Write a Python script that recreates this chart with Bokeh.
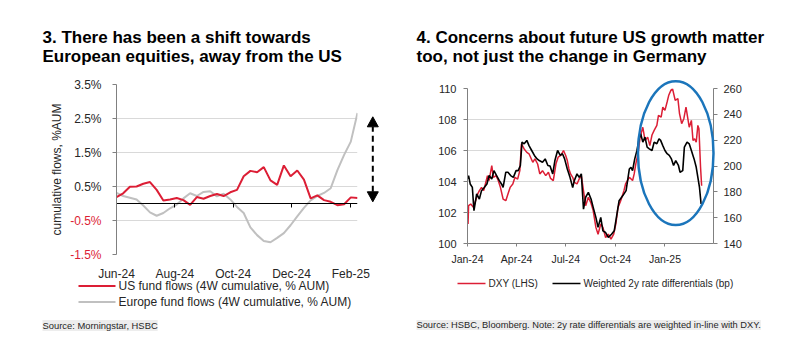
import pandas as pd
from bokeh.plotting import figure
from bokeh.layouts import row
from bokeh.models import (Range1d, LinearAxis, DatetimeAxis, FixedTicker, DatetimeTickFormatter,
                          PrintfTickFormatter, CustomJSTickFormatter)
from bokeh.core.properties import value
from bokeh.embed import file_html
from bokeh.resources import INLINE

# ---------------- Chart 3 data ----------------
flow_dates = pd.date_range("2024-06-01", periods=37, freq="7D")
us_flows = [0.19, 0.30, 0.49, 0.50, 0.58, 0.63, 0.40, 0.09, 0.12, 0.16, 0.10, -0.04, 0.19,
            0.14, 0.22, 0.28, 0.22, 0.33, 0.40, 0.80, 0.96, 0.92, 1.07, 0.68, 0.55, 1.12,
            0.80, 0.97, 0.70, 0.15, 0.24, 0.10, 0.05, -0.05, -0.02, 0.18, 0.16]
europe_flows = [0.31, 0.22, 0.17, 0.12, -0.06, -0.26, -0.36, -0.28, -0.14, -0.03, 0.15, 0.30,
                0.22, 0.34, 0.36, 0.21, 0.29, 0.12, -0.10, -0.28, -0.70, -0.93, -1.10, -1.14,
                -1.01, -0.87, -0.64, -0.38, -0.13, 0.09, 0.22, 0.31, 0.45, 0.98, 1.43, 1.82, 2.66]
flow_x_ticks = ["2024-06-01", "2024-08-01", "2024-10-01", "2024-12-01", "2025-02-01"]
flow_x_limits = ["2024-06-01", "2025-02-08"]
flow_y_ticks = [-1.5, -0.5, 0.5, 1.5, 2.5, 3.5]
flow_neg_ticks = [-1.5, -0.5]
flow_neg_labels = ["-1.5%", "-0.5%"]
flow_y_limits = [-1.5, 3.5]
flow_labels = ["US fund flows (4W cumulative, % AUM)", "Europe fund flows (4W cumulative, % AUM)"]
arrow_date = "2025-02-24"
arrow_tips = [0.05, 2.55]       # bottom and top arrow tips
title3 = ["3. There has been a shift towards", "European equities, away from the US"]
source3 = "Source: Morningstar, HSBC"

# ---------------- Chart 4 data ----------------
dxy_dates = ["2024-01-02", "2024-01-03", "2024-01-07", "2024-01-12", "2024-01-16", "2024-01-20",
             "2024-01-23", "2024-01-27", "2024-01-31", "2024-02-04", "2024-02-07", "2024-02-10",
             "2024-02-15", "2024-02-18", "2024-02-23", "2024-02-27", "2024-03-02", "2024-03-07",
             "2024-03-12", "2024-03-16", "2024-03-20", "2024-03-25", "2024-03-29", "2024-04-03",
             "2024-04-07", "2024-04-10", "2024-04-15", "2024-04-20", "2024-04-24", "2024-05-01",
             "2024-05-05", "2024-05-10", "2024-05-14", "2024-05-19", "2024-05-25", "2024-05-30",
             "2024-06-03", "2024-06-08", "2024-06-13", "2024-06-17", "2024-06-22", "2024-06-27",
             "2024-07-01", "2024-07-04", "2024-07-07", "2024-07-10", "2024-07-14", "2024-07-17",
             "2024-07-22", "2024-07-26", "2024-07-30", "2024-08-03", "2024-08-07", "2024-08-12",
             "2024-08-17", "2024-08-21", "2024-08-26", "2024-08-30", "2024-09-04", "2024-09-08",
             "2024-09-13", "2024-09-18", "2024-09-23", "2024-09-28", "2024-10-02", "2024-10-06",
             "2024-10-11", "2024-10-17", "2024-10-20", "2024-10-27", "2024-11-02", "2024-11-05",
             "2024-11-08", "2024-11-12", "2024-11-16", "2024-11-21", "2024-11-25", "2024-11-30",
             "2024-12-04", "2024-12-08", "2024-12-12", "2024-12-17", "2024-12-20", "2024-12-25",
             "2024-12-28", "2025-01-01", "2025-01-05", "2025-01-08", "2025-01-12", "2025-01-15",
             "2025-01-20", "2025-01-25", "2025-01-28", "2025-02-01", "2025-02-05", "2025-02-09",
             "2025-02-12", "2025-02-15", "2025-02-19", "2025-02-22", "2025-02-25", "2025-02-28",
             "2025-03-03", "2025-03-05", "2025-03-08", "2025-03-10"]
dxy = [101.26, 102.44, 102.55, 102.33, 102.76, 103.20, 103.41, 103.62, 103.41, 103.95, 104.38,
       104.06, 105.03, 104.27, 104.38, 104.06, 103.62, 102.87, 102.76, 103.20, 103.62, 103.84,
       104.27, 104.16, 104.70, 106.43, 106.10, 105.88, 105.79, 105.24, 105.46, 105.13, 104.49,
       104.70, 104.38, 104.60, 104.20, 104.06, 105.14, 105.57, 105.68, 106.00, 105.68, 105.35,
       104.81, 104.49, 104.27, 103.95, 103.84, 104.16, 104.38, 103.41, 102.44, 102.98, 102.60,
       102.12, 101.04, 100.60, 101.26, 101.04, 100.39, 100.60, 100.28, 100.60, 101.26, 102.33,
       102.76, 103.41, 103.84, 104.27, 104.06, 104.49, 105.14, 105.79, 106.86, 107.50, 106.65,
       106.86, 106.32, 107.00, 107.30, 107.62, 108.27, 108.16, 108.80, 108.59, 109.13, 109.56,
       109.88, 109.99, 109.24, 109.35, 108.38, 107.73, 108.05, 108.80, 108.16, 107.50, 107.94,
       106.65, 106.75, 106.54, 107.62, 107.41, 104.92, 103.73]
diff_dates = ["2024-01-02", "2024-01-03", "2024-01-06", "2024-01-10", "2024-01-13", "2024-01-18",
              "2024-01-23", "2024-01-27", "2024-02-01", "2024-02-06", "2024-02-10", "2024-02-15",
              "2024-02-19", "2024-02-24", "2024-02-29", "2024-03-04", "2024-03-07", "2024-03-12",
              "2024-03-16", "2024-03-21", "2024-03-26", "2024-03-31", "2024-04-04", "2024-04-08",
              "2024-04-11", "2024-04-15", "2024-04-20", "2024-04-24", "2024-04-29", "2024-05-04",
              "2024-05-09", "2024-05-13", "2024-05-19", "2024-05-24", "2024-05-29", "2024-06-02",
              "2024-06-07", "2024-06-11", "2024-06-16", "2024-06-21", "2024-06-25", "2024-06-29",
              "2024-07-04", "2024-07-09", "2024-07-14", "2024-07-17", "2024-07-22", "2024-07-26",
              "2024-07-30", "2024-08-03", "2024-08-07", "2024-08-12", "2024-08-17", "2024-08-21",
              "2024-08-26", "2024-08-30", "2024-09-04", "2024-09-08", "2024-09-13", "2024-09-18",
              "2024-09-24", "2024-09-29", "2024-10-04", "2024-10-08", "2024-10-15", "2024-10-21",
              "2024-10-27", "2024-10-30", "2024-11-02", "2024-11-06", "2024-11-10", "2024-11-14",
              "2024-11-17", "2024-11-21", "2024-11-25", "2024-11-29", "2024-12-03", "2024-12-08",
              "2024-12-12", "2024-12-17", "2024-12-21", "2024-12-24", "2024-12-28", "2025-01-01",
              "2025-01-05", "2025-01-09", "2025-01-13", "2025-01-17", "2025-01-21", "2025-01-26",
              "2025-01-29", "2025-02-03", "2025-02-06", "2025-02-11", "2025-02-15", "2025-02-19",
              "2025-02-24", "2025-02-28", "2025-03-04", "2025-03-06", "2025-03-09"]
rate_diff = [190.0, 192.6, 186.1, 183.4, 165.4, 178.4, 174.4, 180.9, 183.4, 186.1, 192.6, 189.9,
             196.4, 192.6, 188.7, 186.1, 183.4, 195.2, 195.2, 192.6, 191.2, 196.4, 196.4, 200.4,
             218.5, 217.2, 219.8, 215.8, 212.0, 208.2, 205.5, 204.2, 202.9, 205.5, 200.4, 200.0,
             193.9, 204.2, 212.0, 208.2, 209.5, 205.5, 197.7, 191.2, 183.4, 188.7, 193.9, 191.2,
             193.9, 166.6, 175.8, 179.6, 174.4, 168.0, 160.2, 152.5, 160.2, 149.8, 148.5, 144.7,
             147.2, 149.8, 162.8, 173.1, 177.1, 180.9, 197.7, 199.0, 196.5, 205.5, 211.9, 221.1,
             225.0, 218.5, 222.3, 214.6, 213.3, 212.0, 218.5, 217.2, 221.1, 219.8, 215.8, 212.0,
             209.5, 208.2, 205.5, 200.4, 204.2, 200.4, 195.2, 196.4, 214.6, 218.5, 217.2, 212.0,
             205.5, 199.0, 188.7, 183.4, 170.6]
fx_x_ticks = ["2024-01-01", "2024-04-01", "2024-07-01", "2024-10-01", "2025-01-01"]
fx_x_limits = ["2024-01-01", "2025-04-01"]
lhs_ticks = [100, 102, 104, 106, 108, 110]
rhs_ticks = [140, 160, 180, 200, 220, 240, 260]
lhs_limits = [100, 110]
rhs_limits = [140, 260]
fx_labels = ["DXY (LHS)", "Weighted 2y rate differentials (bp)"]
ellipse_center = ("2025-01-21", 105.83)
ellipse_size_days = 140
ellipse_height = 9.28
title4 = ["4. Concerns about future US growth matter", "too, not just the change in Germany"]
source4 = "Source: HSBC, Bloomberg. Note: 2y rate differentials are weighted in-line with DXY."

# ---------------- styling ----------------
FONT = "Liberation Sans"
RED = "#DC1E35"
GREY_LINE = "#C0C0C0"
AXIS = "#808080"
GRID = "#D9D9D9"
TXT = "#262626"
BLUE = "#1B75BB"
W, H = 400, 356
B1 = dict(left=116, right=43, top=84, bottom=102)   # chart 3 borders
B2 = dict(left=67, right=87, top=88, bottom=113)    # chart 4 borders
HEAD_LEN, HEAD_HALF = 10, 5.5                       # arrow head size in pixels


def ms(d):
    return pd.Timestamp(d).timestamp() * 1000.0


class Frame:
    """Maps canvas pixel positions (outside the frame) to data coordinates."""
    def __init__(self, b, xlim, ylim):
        self.b, self.xlim, self.ylim = b, [ms(v) for v in xlim], ylim
        self.w = W - b["left"] - b["right"]
        self.h = H - b["top"] - b["bottom"]

    def x(self, cx):
        x0, x1 = self.xlim
        return x0 + (cx - self.b["left"]) / self.w * (x1 - x0)

    def y(self, cy):
        y0, y1 = self.ylim
        return y1 - (cy - self.b["top"]) / self.h * (y1 - y0)

    def dx(self, n):
        return n * (self.xlim[1] - self.xlim[0]) / self.w

    def dy(self, n):
        return n * (self.ylim[1] - self.ylim[0]) / self.h


def style_axis(ax, size):
    ax.major_label_text_font = FONT
    ax.major_label_text_font_size = size
    ax.major_label_text_color = TXT
    ax.minor_tick_line_color = None
    ax.axis_line_color = AXIS
    ax.major_tick_line_color = AXIS
    ax.major_tick_in = 0


def put_text(p, fr, cx, cy, text, size, style="normal", color=TXT, baseline="alphabetic", bg=None):
    kw = dict(x=[fr.x(cx)], y=[fr.y(cy)], text=[text], text_align="left", text_baseline=baseline,
              text_color=color, text_font=value(FONT), text_font_size=size, text_font_style=style)
    if bg is not None:
        kw["background_fill_color"] = bg
    r = p.text(**kw)
    r.level = "overlay"
    return r


def put_swatch(p, fr, cx0, cx1, cy, color, width):
    r = p.segment(x0=[fr.x(cx0)], y0=[fr.y(cy)], x1=[fr.x(cx1)], y1=[fr.y(cy)],
                  line_color=color, line_width=width)
    r.level = "overlay"


date_fmt = DatetimeTickFormatter(days="%b-%y", months="%b-%y", years="%b-%y")


def base_figure(b, xlim, ylim):
    p = figure(width=W, height=H, x_axis_type="datetime",
               x_range=Range1d(ms(xlim[0]), ms(xlim[1])), y_range=Range1d(*ylim),
               output_backend="svg", toolbar_location=None, frame_align=False,
               min_border_left=b["left"], min_border_right=b["right"],
               min_border_top=b["top"], min_border_bottom=b["bottom"])
    p.outline_line_color = None
    p.background_fill_color = "white"
    p.border_fill_color = "white"
    p.xgrid.visible = False
    p.ygrid.grid_line_color = GRID
    return p


# ================= Chart 3 =================
p1 = base_figure(B1, flow_x_limits, flow_y_limits)
f1 = Frame(B1, flow_x_limits, flow_y_limits)
p1.ygrid.ticker = FixedTicker(ticks=flow_y_ticks)

xa = p1.xaxis[0]
xa.ticker = FixedTicker(ticks=[ms(d) for d in flow_x_ticks])
xa.formatter = date_fmt
style_axis(xa, "12px")
xa.axis_line_color = None
xa.major_tick_line_color = None
xa.major_tick_out = 0
xa.major_label_standoff = 12

ya = p1.yaxis[0]
ya.ticker = FixedTicker(ticks=flow_y_ticks)
ya.formatter = PrintfTickFormatter(format="%.1f%%")
ya.major_label_overrides = {t: "" for t in flow_neg_ticks}
style_axis(ya, "12px")
ya.major_tick_out = 4
ya.major_label_standoff = 11
ya.axis_label = "cumulative flows, %AUM"
ya.axis_label_text_font = FONT
ya.axis_label_text_font_size = "12px"
ya.axis_label_text_font_style = "normal"
ya.axis_label_text_color = TXT
ya.axis_label_standoff = 7

zero_axis = DatetimeAxis(fixed_location=0, ticker=FixedTicker(ticks=[ms(d) for d in flow_x_ticks]),
                         formatter=CustomJSTickFormatter(code="return ''"))
zero_axis.axis_line_color = "black"
zero_axis.major_tick_line_color = "black"
zero_axis.major_tick_in = 0
zero_axis.major_tick_out = 4
zero_axis.minor_tick_line_color = None
p1.add_layout(zero_axis, "below")

p1.line(flow_dates, europe_flows, line_color=GREY_LINE, line_width=2)
p1.line(flow_dates, us_flows, line_color=RED, line_width=2)

neg = p1.text(x=[pd.Timestamp(flow_x_limits[0])] * len(flow_neg_ticks), y=flow_neg_ticks,
              text=flow_neg_labels, x_offset=-15, text_align="right", text_baseline="middle",
              text_color=RED, text_font=value(FONT), text_font_size="12px")
neg.level = "overlay"

# dashed double-headed arrow (outside the frame, on the right)
ax_ms = ms(arrow_date)
hl, hw = f1.dy(HEAD_LEN), f1.dx(HEAD_HALF)
lo, hi = arrow_tips
shaft = p1.segment(x0=[ax_ms], y0=[lo + hl], x1=[ax_ms], y1=[hi - hl],
                   line_color="black", line_width=2, line_dash="6 4")
shaft.level = "overlay"
for tip, base in [(lo, lo + hl), (hi, hi - hl)]:
    hd = p1.patch(x=[ax_ms, ax_ms - hw, ax_ms + hw], y=[tip, base, base],
                  fill_color="black", line_color="black", line_width=1)
    hd.level = "overlay"

put_text(p1, f1, 42, 37, title3[0], "17px", "bold", "black")
put_text(p1, f1, 42, 56, title3[1], "17px", "bold", "black")
put_swatch(p1, f1, 78, 115, 285.5, RED, 2)
put_text(p1, f1, 118, 285.5, flow_labels[0], "12px", baseline="middle")
put_swatch(p1, f1, 78, 115, 301.5, GREY_LINE, 2)
put_text(p1, f1, 118, 301.5, flow_labels[1], "12px", baseline="middle")
put_text(p1, f1, 42, 325, source3, "9.4px", bg="#EDEDED")

# ================= Chart 4 =================
p2 = base_figure(B2, fx_x_limits, lhs_limits)
f2 = Frame(B2, fx_x_limits, lhs_limits)
p2.extra_y_ranges = {"rhs": Range1d(*rhs_limits)}
p2.ygrid.ticker = FixedTicker(ticks=lhs_ticks[1:])

xb = p2.xaxis[0]
xb.ticker = FixedTicker(ticks=[ms(d) for d in fx_x_ticks])
xb.formatter = date_fmt
style_axis(xb, "10.5px")
xb.major_tick_out = 3
xb.major_label_standoff = 6

yb = p2.yaxis[0]
yb.ticker = FixedTicker(ticks=lhs_ticks)
style_axis(yb, "11px")
yb.major_tick_out = 4
yb.major_label_standoff = 7

rhs_axis = LinearAxis(y_range_name="rhs", ticker=FixedTicker(ticks=rhs_ticks))
style_axis(rhs_axis, "11px")
rhs_axis.major_tick_out = 4
rhs_axis.major_label_standoff = 6
p2.add_layout(rhs_axis, "right")

p2.line(pd.to_datetime(dxy_dates), dxy, line_color=RED, line_width=1.5)
p2.line(pd.to_datetime(diff_dates), rate_diff, line_color="black", line_width=1.6, y_range_name="rhs")

ell = p2.ellipse(x=[pd.Timestamp(ellipse_center[0])], y=[ellipse_center[1]],
                 width=[ellipse_size_days * 86400000.0], height=[ellipse_height],
                 fill_alpha=0, line_color=BLUE, line_width=2.5)
ell.level = "overlay"

put_text(p2, f2, 16, 37, title4[0], "17px", "bold", "black")
put_text(p2, f2, 16, 56, title4[1], "17px", "bold", "black")
put_swatch(p2, f2, 57, 85, 283, RED, 1.5)
put_text(p2, f2, 88, 283, fx_labels[0], "10px", baseline="middle")
put_swatch(p2, f2, 152, 180, 283, "black", 1.5)
put_text(p2, f2, 183, 283, fx_labels[1], "10px", baseline="middle")
put_text(p2, f2, 16, 324.5, source4, "9.3px", bg="#EDEDED")

layout = row(p1, p2)
open("out.html", "w").write(file_html(layout, INLINE))
